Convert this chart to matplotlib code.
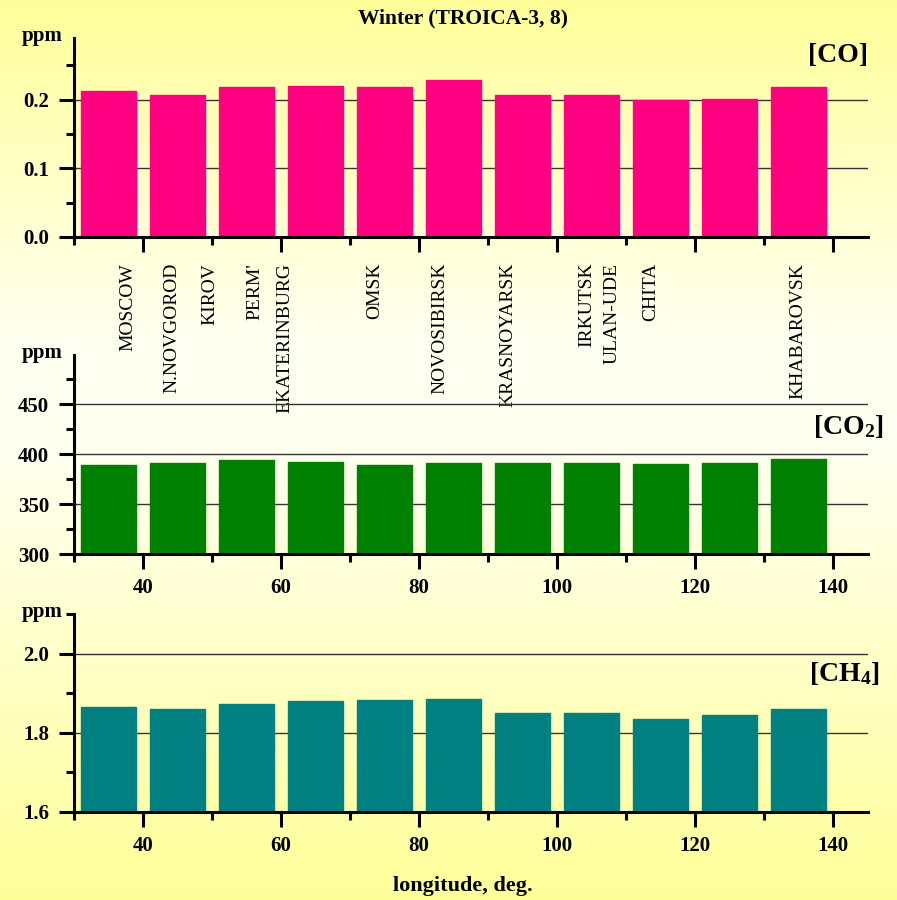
import matplotlib
matplotlib.use("Agg")
import matplotlib.pyplot as plt
import matplotlib.transforms as mtransforms
from matplotlib.colors import LinearSegmentedColormap
from matplotlib.ticker import MultipleLocator, FixedLocator
import numpy as np

# dane
lon = [35, 45, 55, 65, 75, 85, 95, 105, 115, 125, 135]
co = [0.213, 0.207, 0.218, 0.220, 0.219, 0.229, 0.207, 0.207, 0.200, 0.201, 0.218]
co2 = [389, 391, 394, 392, 389, 391, 391, 391, 390, 391, 395]
ch4 = [1.864, 1.859, 1.873, 1.879, 1.884, 1.886, 1.850, 1.849, 1.836, 1.844, 1.859]

cities = ["MOSCOW", "N.NOVGOROD", "KIROV", "PERM'", "EKATERINBURG", "OMSK",
          "NOVOSIBIRSK", "KRASNOYARSK", "IRKUTSK", "ULAN-UDE", "CHITA", "KHABAROVSK"]
city_lon = [37.8, 44.2, 49.7, 56.2, 60.6, 73.6, 83.0, 92.9, 104.3, 108.0, 113.5, 134.9]

plt.rcParams['font.family'] = ['Liberation Serif', 'DejaVu Serif']
plt.rcParams['font.weight'] = 'bold'
plt.rcParams['mathtext.fontset'] = 'custom'
plt.rcParams['mathtext.rm'] = 'Liberation Serif:bold'
plt.rcParams['mathtext.bf'] = 'Liberation Serif:bold'
plt.rcParams['mathtext.it'] = 'Liberation Serif:bold'

fig = plt.figure(figsize=(8.97, 9.0), dpi=100)

# tlo - gradient
bg = fig.add_axes([0, 0, 1, 1], zorder=-10)
cmap = LinearSegmentedColormap.from_list(
    "bg", [(0.0, "#ffff99"), (0.38, "#fffff2"), (0.5, "#fffff0"), (1.0, "#ffff99")])
grad = np.linspace(0, 1, 256).reshape(-1, 1)
bg.imshow(grad, aspect='auto', cmap=cmap, extent=[0, 1, 0, 1], origin='upper')
bg.set_axis_off()


def panel(rect, vals, color, ylim, major, minor, yfmt, label, lab_xy, xlabels):
    ax = fig.add_axes(rect)
    ax.patch.set_alpha(0)
    ax.bar(lon, vals, width=8, color=color, edgecolor=color, zorder=3)
    ax.set_xlim(30, 145)
    ax.set_ylim(*ylim)
    ax.yaxis.set_major_locator(MultipleLocator(major))
    ax.yaxis.set_minor_locator(MultipleLocator(minor))
    ax.xaxis.set_major_locator(FixedLocator([40, 60, 80, 100, 120, 140]))
    ax.xaxis.set_minor_locator(FixedLocator([30, 50, 70, 90, 110, 130]))
    ax.yaxis.set_major_formatter(plt.FuncFormatter(lambda v, p: yfmt % v))
    for s in ['top', 'right']:
        ax.spines[s].set_visible(False)
    for s in ['left', 'bottom']:
        ax.spines[s].set_linewidth(2.2)
        ax.spines[s].set_zorder(5)
    ax.tick_params(which='major', length=11, width=2.2, labelsize=15)
    ax.tick_params(which='minor', length=6, width=2.2)
    ax.tick_params(axis='y', pad=7)
    ax.tick_params(axis='x', labelbottom=xlabels, pad=6)
    for t in ax.get_yticks():
        if ylim[0] < t <= ylim[1]:
            ax.axhline(t, color='#333333', lw=1.0, zorder=1)
    for lbl in ax.get_xticklabels() + ax.get_yticklabels():
        lbl.set_fontweight('bold')
    ax.text(-0.04, 0.985, "ppm", transform=ax.transAxes, ha='center',
            va='baseline', fontsize=15, fontweight='bold')
    ax.text(lab_xy[0], lab_xy[1], label, transform=ax.transAxes, ha='right',
            va='top', fontsize=20, fontweight='bold')
    return ax


ax1 = panel([0.0825, 0.7367, 0.885, 0.2211], co, '#ff0080', (0, 0.29), 0.1, 0.05,
            '%.1f', '[CO]', (1.0, 0.975), False)
ax2 = panel([0.0825, 0.3844, 0.885, 0.2211], co2, '#008000', (300, 499), 50, 25,
            '%d', r'[CO$_{2}$]', (1.02, 0.71), True)
ax3 = panel([0.0825, 0.0978, 0.885, 0.2200], ch4, '#008080', (1.6, 2.1), 0.2, 0.1,
            '%.1f', r'[CH$_{4}$]', (1.015, 0.77), True)

# nazwy miast
trans = mtransforms.blended_transform_factory(ax1.transData, ax1.transAxes)
for name, x in zip(cities, city_lon):
    ax1.text(x, -0.13, name, transform=trans, rotation=90, ha='center', va='top',
             fontsize=14, fontweight='normal')

fig.text(0.516, 0.979, "Winter (TROICA-3, 8)", ha='center', va='center',
         fontsize=15.5, fontweight='bold')
fig.text(0.516, 0.016, "longitude, deg.", ha='center', va='center',
         fontsize=16, fontweight='bold')

fig.savefig("out.png", dpi=100)
